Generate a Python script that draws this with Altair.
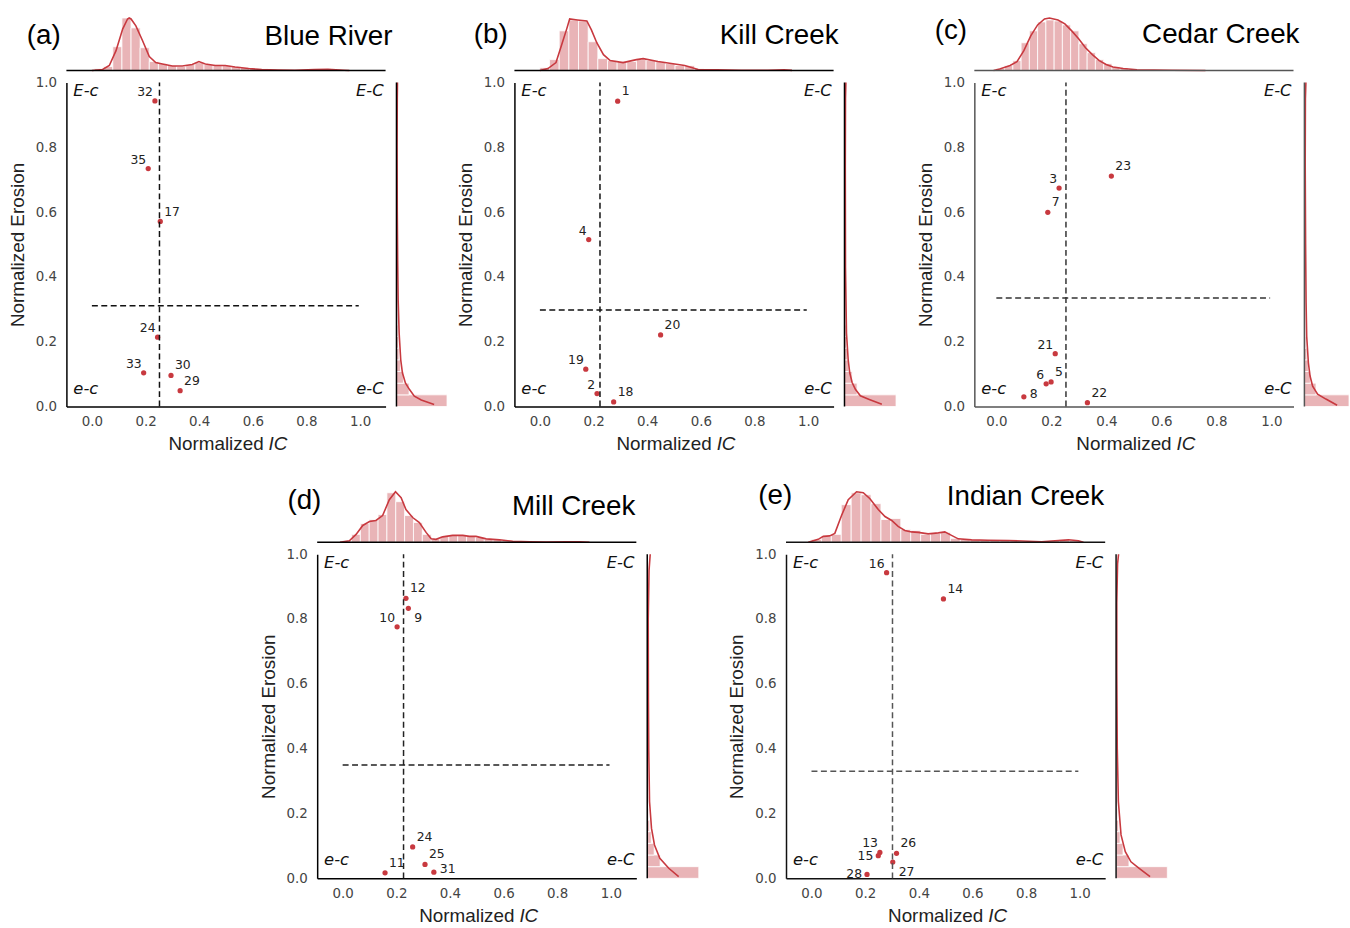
import altair as alt
import pandas as pd

RED = "#c8393f"
PINK = "#e9b4b7"

# ---------------- Panel (a) Blue River ----------------
A_ID = [32, 35, 17, 24, 33, 30, 29]
A_IC = [0.235, 0.210, 0.255, 0.245, 0.193, 0.295, 0.329]
A_ERO = [0.943, 0.734, 0.571, 0.214, 0.104, 0.096, 0.049]
A_POS = ["ul", "ul", "ur", "ul", "ul", "ur", "ur"]
A_THR_IC, A_THR_ERO = 0.252, 0.311
A_TOP_BIN0, A_TOP_BW = 0.010, 0.034
A_TOP_H = [2, 4, 24, 53, 43, 23, 9, 7, 5, 4, 6, 8, 6, 6, 5, 4, 3, 2.3, 1.7, 1.3, 1, 0.7, 0.5, 0.4, 1, 1.2, 0.8]
A_KDE_X = [0.0, 0.04, 0.065, 0.09, 0.115, 0.133, 0.139, 0.146, 0.164, 0.189, 0.214, 0.238, 0.263, 0.3, 0.337,
           0.374, 0.399, 0.423, 0.46, 0.497, 0.534, 0.584, 0.633, 0.695, 0.756, 0.83, 0.88, 0.94, 0.96]
A_KDE_Y = [0, 1, 5, 20, 42, 52, 53, 52, 45, 30, 14, 8, 6.5, 4.5, 4.5, 6, 9, 6.5, 5, 5, 3.5, 2, 1, 0.5, 0.3, 1, 1.3, 0.3, 0]
A_R_BW = 0.036
A_R_H = [51, 12.7, 7, 4, 2.5, 2, 1.5, 1.2, 1, 0.8]
A_RK_E = [0.006, 0.02, 0.032, 0.053, 0.073, 0.104, 0.144, 0.226, 0.328, 0.45, 0.6, 0.8, 0.95, 1.0]
A_RK_D = [38, 25, 18, 13, 9, 6, 4.3, 2.7, 1.7, 1.2, 0.8, 0.6, 0.8, 1.0]

# ---------------- Panel (b) Kill Creek ----------------
B_ID = [1, 4, 20, 19, 2, 18]
B_IC = [0.290, 0.182, 0.450, 0.171, 0.213, 0.275]
B_ERO = [0.942, 0.515, 0.221, 0.115, 0.040, 0.014]
B_POS = ["ur", "ul", "ur", "ul", "ul", "ur"]
B_THR_IC, B_THR_ERO = 0.224, 0.298
B_TOP_BIN0, B_TOP_BW = 0.0, 0.036
B_TOP_H = [3, 11, 40, 51, 50, 29, 12, 10, 9, 9, 11, 10, 9, 7, 5, 5, 2, 1, 1, 0.5, 0.3, 0.2, 0.2, 0.2, 0.2, 0.7]
B_KDE_X = [0.0, 0.03, 0.06, 0.08, 0.1, 0.111, 0.14, 0.175, 0.192, 0.212, 0.237, 0.262, 0.31, 0.36, 0.385,
           0.44, 0.49, 0.54, 0.59, 0.66, 0.75, 0.85, 0.91, 0.94]
B_KDE_Y = [0, 2, 8, 25, 42, 52, 51, 50, 41, 28, 16, 10, 8, 11, 12, 9, 7, 5, 1, 0.7, 0.2, 0.2, 0.7, 0.1]
B_R_BW = 0.036
B_R_H = [52, 12.7, 7.7, 4.3, 3, 2, 1.5, 1, 0.8]
B_RK_E = [0.007, 0.022, 0.033, 0.053, 0.074, 0.104, 0.145, 0.227, 0.43, 0.74, 0.95, 1.0]
B_RK_D = [37.7, 25, 16, 11, 7.7, 5.3, 3.7, 2, 1, 0.8, 1.0, 1.4]

# ---------------- Panel (c) Cedar Creek ----------------
C_ID = [3, 23, 7, 21, 5, 6, 8, 22]
C_IC = [0.228, 0.418, 0.187, 0.214, 0.199, 0.181, 0.100, 0.331]
C_ERO = [0.674, 0.711, 0.599, 0.163, 0.076, 0.070, 0.030, 0.012]
C_POS = ["ul", "ur", "ur", "ul", "ur", "ul", "r", "ur"]
C_THR_IC, C_THR_ERO = 0.253, 0.335
C_TOP_BIN0, C_TOP_BW = 0.0, 0.030
C_TOP_H = [2, 5, 10, 28, 40, 49, 51, 50, 46, 40, 27, 18, 11, 7, 4, 2.5, 1.5, 1, 0.6, 0.4]
C_KDE_X = [-0.01, 0.012, 0.05, 0.075, 0.1, 0.125, 0.15, 0.175, 0.193, 0.224, 0.249, 0.274, 0.299, 0.324,
           0.349, 0.374, 0.399, 0.424, 0.461, 0.511, 0.573, 0.636, 0.76]
C_KDE_Y = [0, 1.5, 5, 9, 20, 35, 46, 52, 53, 51, 47, 40, 32, 23, 16, 10, 6, 3.5, 2, 0.8, 0.4, 0.2, 0.05]
C_R_BW = 0.036
C_R_H = [45, 11.7, 6, 4, 2.5, 1.5, 1, 0.8]
C_RK_E = [0.004, 0.023, 0.038, 0.063, 0.094, 0.135, 0.217, 0.32, 0.5, 0.75, 0.95, 1.0]
C_RK_D = [33, 21.7, 13.3, 8.3, 5.7, 4, 2.3, 1.7, 1.2, 0.8, 1.0, 1.5]

# ---------------- Panel (d) Mill Creek ----------------
D_ID = [12, 9, 10, 24, 25, 31, 11]
D_IC = [0.236, 0.245, 0.203, 0.261, 0.307, 0.340, 0.158]
D_ERO = [0.864, 0.833, 0.776, 0.097, 0.043, 0.019, 0.017]
D_POS = ["ur", "lr", "ul", "ur", "ur", "r", "ur"]
D_THR_IC, D_THR_ERO = 0.227, 0.350
D_TOP_BIN0, D_TOP_BW = 0.0, 0.033
D_TOP_H = [1.5, 8, 19, 23, 28, 50, 41, 27, 20, 8, 3.5, 6, 7, 7, 6, 5, 3, 2.5, 1.5, 1, 0.5, 0.3, 0.3, 0.3, 0.5, 0.6]
D_KDE_X = [-0.01, 0.025, 0.05, 0.075, 0.1, 0.124, 0.149, 0.174, 0.197, 0.218, 0.236, 0.261, 0.286, 0.311,
           0.33, 0.348, 0.373, 0.41, 0.448, 0.473, 0.497, 0.535, 0.585, 0.634, 0.697, 0.759, 0.833, 0.883, 0.92]
D_KDE_Y = [0, 1.5, 8, 17, 21, 22, 27, 43, 51, 45, 33, 25, 20, 10, 3.5, 3, 5.5, 7, 7, 6, 6, 3.5, 2.5, 1, 0.5,
           0.3, 0.6, 0.5, 0]
D_R_BW = 0.036
D_R_H = [52, 13, 7, 4, 2.5, 1.5, 1, 0.8]
D_RK_E = [0.005, 0.031, 0.062, 0.103, 0.154, 0.237, 0.4, 0.545, 0.8, 0.95, 1.0]
D_RK_D = [31.7, 21.7, 12.7, 7.3, 4.3, 2.3, 1.5, 1.2, 1.0, 1.8, 3]

# ---------------- Panel (e) Indian Creek ----------------
E_ID = [16, 14, 13, 15, 26, 27, 28]
E_IC = [0.280, 0.492, 0.255, 0.249, 0.317, 0.303, 0.207]
E_ERO = [0.943, 0.862, 0.080, 0.070, 0.077, 0.050, 0.012]
E_POS = ["ul", "ur", "ul", "l", "ur", "lr", "l"]
E_THR_IC, E_THR_ERO = 0.302, 0.330
E_TOP_BIN0, E_TOP_BW = 0.0, 0.037
E_TOP_H = [3, 6, 8, 38, 50, 48, 39, 23, 24, 13, 12, 8, 9, 10, 4, 3, 2.5, 2, 2, 2, 1.5, 1, 0.5, 1, 2, 2.5, 2]
E_KDE_X = [-0.012, 0.025, 0.044, 0.068, 0.087, 0.112, 0.137, 0.168, 0.193, 0.218, 0.249, 0.274, 0.299, 0.323,
           0.348, 0.373, 0.398, 0.435, 0.473, 0.497, 0.522, 0.547, 0.597, 0.659, 0.734, 0.809, 0.858, 0.908,
           0.958, 0.995, 1.014]
E_KDE_Y = [0, 3, 6, 6.5, 9, 27, 43, 51, 50, 44, 33, 26, 22, 16, 12, 10.5, 10, 8.5, 9.5, 10.5, 7, 3.5, 2.5, 2,
           1.8, 1, 0.5, 1.5, 2.5, 1.5, 0]
E_R_BW = 0.036
E_R_H = [51.7, 13, 7, 4, 2.5, 1.5, 1, 0.8]
E_RK_E = [0.005, 0.031, 0.051, 0.082, 0.134, 0.237, 0.4, 0.636, 0.85, 0.97, 1.0]
E_RK_D = [34.3, 23.3, 15, 9.3, 5, 2.3, 1.2, 0.7, 0.7, 1.5, 2.5]

TICKS = [0.0, 0.2, 0.4, 0.6, 0.8, 1.0]
W, H = 322, 327

LABEL_OFFSETS = {
    "ul": ("right", -2, -9),
    "ur": ("left", 4, -10),
    "r": ("left", 6, -3),
    "l": ("right", -5, 0),
    "lr": ("left", 6, 10),
}


def panel(letter, name, ids, ic, ero, pos, thr_ic, thr_ero, top_bin0, top_bw, top_h,
          kde_x, kde_y, r_bw, r_h, rk_e, rk_d, st):
    xdom = st["xdom"]
    spine = st["spine"]
    xs = alt.Scale(domain=xdom, nice=False, zero=False)
    ys = alt.Scale(domain=[0, 1], nice=False, zero=False)
    one = pd.DataFrame({"k": [0]})
    pts = pd.DataFrame({"ic": ic, "ero": ero, "id": [str(i) for i in ids], "pos": pos})

    xaxis = alt.Axis(values=TICKS, format=".1f", title=None, domainColor=spine, labelPadding=8)
    yaxis = alt.Axis(values=TICKS, format=".1f", title="Normalized Erosion", domainColor=spine,
                     labelPadding=10, titlePadding=8)

    points = alt.Chart(pts).mark_circle(size=28, color=RED, opacity=1).encode(
        x=alt.X("ic:Q", scale=xs, axis=xaxis),
        y=alt.Y("ero:Q", scale=ys, axis=yaxis),
    )
    layers = [points]
    for p, (al, dx, dy) in LABEL_OFFSETS.items():
        sub = pts[pts["pos"] == p]
        if len(sub) == 0:
            continue
        layers.append(
            alt.Chart(sub).mark_text(align=al, baseline="middle", dx=dx, dy=dy, fontSize=12.5,
                                     font="DejaVu Sans", color="#222").encode(
                x=alt.X("ic:Q", scale=xs), y=alt.Y("ero:Q", scale=ys), text="id:N")
        )
    dash = dict(strokeDash=[6, 3.5], strokeWidth=1.5, color=st["dash"])
    layers.append(alt.Chart(one).mark_rule(**dash).encode(
        x=alt.datum(thr_ic), y=alt.datum(0.0), y2=alt.datum(1.0)))
    layers.append(alt.Chart(one).mark_rule(**dash).encode(
        x=alt.datum(0.0), x2=alt.datum(0.995), y=alt.datum(thr_ero)))

    q = dict(font="DejaVu Sans", fontStyle="italic", fontSize=16.5, color="#111", baseline="middle")
    layers.append(alt.Chart(one).mark_text(text="E-c", align="left", dx=7, dy=9, **q).encode(
        x=alt.datum(xdom[0]), y=alt.datum(1.0)))
    layers.append(alt.Chart(one).mark_text(text="E-C", align="right", dx=-2, dy=9, **q).encode(
        x=alt.datum(xdom[1]), y=alt.datum(1.0)))
    layers.append(alt.Chart(one).mark_text(text="e-c", align="left", dx=7, dy=-18, **q).encode(
        x=alt.datum(xdom[0]), y=alt.datum(0.0)))
    layers.append(alt.Chart(one).mark_text(text="e-C", align="right", dx=-2, dy=-18, **q).encode(
        x=alt.datum(xdom[1]), y=alt.datum(0.0)))

    t = dict(font="Liberation Sans", fontSize=19, color="#222", baseline="middle")
    layers.append(alt.Chart(one).mark_text(text="Normalized", align="right", dx=38, dy=38, **t).encode(
        x=alt.datum(0.5), y=alt.datum(0.0)))
    layers.append(alt.Chart(one).mark_text(text="IC", align="left", dx=43, dy=38, fontStyle="italic", **t).encode(
        x=alt.datum(0.5), y=alt.datum(0.0)))

    h = dict(font="Liberation Sans", fontSize=28, color="#000", baseline="middle")
    layers.append(alt.Chart(one).mark_text(text=letter, align="left", dx=st["ldx"], dy=st["ldy"], **h).encode(
        x=alt.datum(xdom[0]), y=alt.datum(1.0)))
    layers.append(alt.Chart(one).mark_text(text=name, align="right", dx=st["ndx"], dy=st["ndy"], **h).encode(
        x=alt.datum(xdom[1]), y=alt.datum(1.0)))
    main = alt.layer(*layers)

    # top marginal (IC distribution)
    tys = alt.Scale(domain=[0, 55], range=[-12, -67], nice=False, zero=False)
    top_df = pd.DataFrame({"x0": [top_bin0 + i * top_bw for i in range(len(top_h))], "h": top_h})
    top_df["x1"] = top_df["x0"] + top_bw
    kde_df = pd.DataFrame({"x": kde_x, "y": kde_y})
    hist = alt.Chart(top_df).mark_rect(fill=PINK, stroke="white", strokeWidth=0.8).encode(
        x=alt.X("x0:Q", scale=xs, axis=None), x2="x1:Q",
        y=alt.Y("h:Q", scale=tys, axis=None), y2=alt.datum(0))
    kde = alt.Chart(kde_df).mark_line(color=RED, strokeWidth=1.6).encode(
        x=alt.X("x:Q", scale=xs, axis=None), y=alt.Y("y:Q", scale=tys, axis=None))
    trule = alt.Chart(one).mark_rule(color=spine, strokeWidth=1.5).encode(
        x=alt.datum(xdom[0]), x2=alt.datum(xdom[1]), y=alt.datum(0))
    top = alt.layer(hist, kde, trule)

    # right marginal (erosion distribution)
    rxs = alt.Scale(domain=[0, 55], range=[W + 11, W + 66], nice=False, zero=False)
    r_df = pd.DataFrame({"e0": [i * r_bw for i in range(len(r_h))], "d": r_h})
    r_df["e1"] = r_df["e0"] + r_bw
    rk_df = pd.DataFrame({"e": rk_e, "d": rk_d})
    rhist = alt.Chart(r_df).mark_rect(fill=PINK, stroke="white", strokeWidth=0.8).encode(
        y=alt.Y("e0:Q", scale=ys, axis=None), y2="e1:Q",
        x=alt.X("d:Q", scale=rxs, axis=None), x2=alt.datum(0))
    rkde = alt.Chart(rk_df).mark_line(color=RED, strokeWidth=1.6).encode(
        x=alt.X("d:Q", scale=rxs, axis=None), y=alt.Y("e:Q", scale=ys, axis=None), order=alt.Order("e:Q"))
    rrule = alt.Chart(one).mark_rule(color=spine, strokeWidth=1.5).encode(
        x=alt.datum(0), y=alt.datum(0.0), y2=alt.datum(1.0))
    right = alt.layer(rhist, rkde, rrule)

    return alt.layer(main, top, right).resolve_scale(x="independent", y="independent").properties(
        width=W, height=H)


STD = [-0.095, 1.095]
pa = panel("(a)", "Blue River", A_ID, A_IC, A_ERO, A_POS, A_THR_IC, A_THR_ERO, A_TOP_BIN0, A_TOP_BW, A_TOP_H,
           A_KDE_X, A_KDE_Y, A_R_BW, A_R_H, A_RK_E, A_RK_D,
           dict(xdom=STD, spine="#000", dash="#111", ldx=-40, ldy=-47, ndx=7, ndy=-46))
pb = panel("(b)", "Kill Creek", B_ID, B_IC, B_ERO, B_POS, B_THR_IC, B_THR_ERO, B_TOP_BIN0, B_TOP_BW, B_TOP_H,
           B_KDE_X, B_KDE_Y, B_R_BW, B_R_H, B_RK_E, B_RK_D,
           dict(xdom=STD, spine="#000", dash="#111", ldx=-41, ldy=-48, ndx=5, ndy=-47))
pc = panel("(c)", "Cedar Creek", C_ID, C_IC, C_ERO, C_POS, C_THR_IC, C_THR_ERO, C_TOP_BIN0, C_TOP_BW, C_TOP_H,
           C_KDE_X, C_KDE_Y, C_R_BW, C_R_H, C_RK_E, C_RK_D,
           dict(xdom=[-0.08, 1.08], spine="#555", dash="#333", ldx=-40, ldy=-52, ndx=6, ndy=-48))
pd_ = panel("(d)", "Mill Creek", D_ID, D_IC, D_ERO, D_POS, D_THR_IC, D_THR_ERO, D_TOP_BIN0, D_TOP_BW, D_TOP_H,
            D_KDE_X, D_KDE_Y, D_R_BW, D_R_H, D_RK_E, D_RK_D,
            dict(xdom=STD, spine="#000", dash="#222", ldx=-30, ldy=-54, ndx=-1, ndy=-48))
pe = panel("(e)", "Indian Creek", E_ID, E_IC, E_ERO, E_POS, E_THR_IC, E_THR_ERO, E_TOP_BIN0, E_TOP_BW, E_TOP_H,
           E_KDE_X, E_KDE_Y, E_R_BW, E_R_H, E_RK_E, E_RK_D,
           dict(xdom=STD, spine="#111", dash="#555", ldx=-28, ldy=-59, ndx=-1, ndy=-58))

spacer = alt.Chart(pd.DataFrame({"k": [0]})).mark_point(opacity=0).encode(
    x=alt.value(0), y=alt.value(0)).properties(width=166, height=10)

row1 = alt.hconcat(alt.hconcat(pa, pb, spacing=8), pc, spacing=19)
row2 = alt.hconcat(spacer, pd_, pe, spacing=28)

chart = alt.vconcat(row1, row2, spacing=28).properties(
    padding={"left": 8, "top": 10, "right": 0, "bottom": 0},
    background="white",
).configure_view(strokeWidth=0).configure_axis(
    domainWidth=1.5, ticks=False, grid=False,
    labelFont="DejaVu Sans", labelFontSize=13.5, labelColor="#444",
    titleFont="Liberation Sans", titleFontSize=19, titleColor="#222", titleFontWeight="normal",
)

chart.save("out.html", embed_options={"renderer": "svg", "actions": False})
